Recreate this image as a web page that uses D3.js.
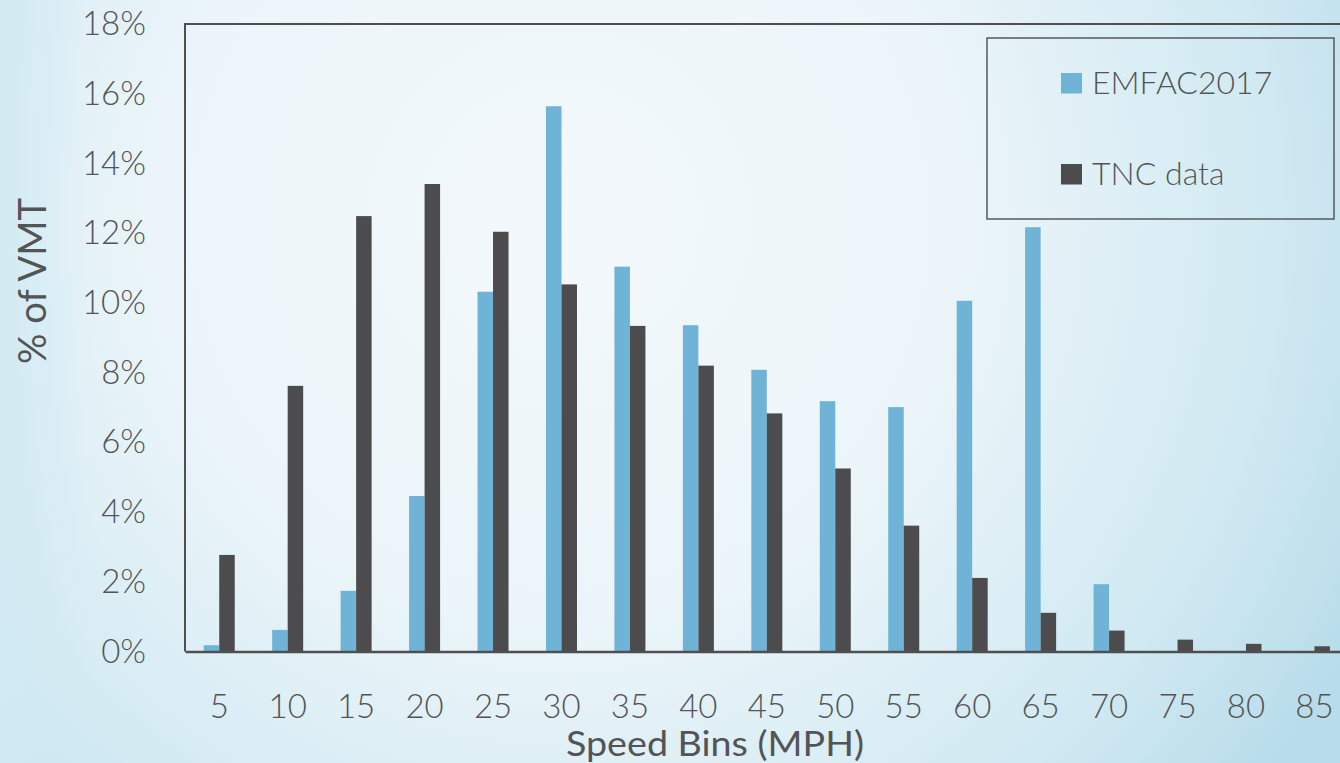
<!DOCTYPE html>
<html>
<head>
<meta charset="utf-8">
<script src="https://cdn.jsdelivr.net/npm/d3@7"></script>
<style>
	html, body { margin: 0; padding: 0; overflow: hidden; }
	svg { display: block; font-family: Lato, "Open Sans", sans-serif; }
</style>
</head>
<body>
<svg id="chart" width="1340" height="763"></svg>
<script>
// speed bins (MPH)
const speedBins = ['5', '10', '15', '20', '25', '30', '35', '40', '45', '50', '55', '60', '65', '70', '75', '80', '85'];
// share of VMT, fractions
const emfac2017 = [0.0018, 0.0062, 0.0174, 0.0446, 0.1032, 0.1564, 0.1104, 0.0936, 0.0808, 0.0718, 0.0701, 0.1006, 0.1217, 0.0193, 0, 0, 0];
const tncData = [0.0277, 0.0762, 0.1249, 0.1341, 0.1204, 0.1053, 0.0934, 0.0820, 0.0683, 0.0525, 0.0361, 0.0211, 0.0111, 0.0060, 0.0034, 0.0022, 0.0015];
const seriesNames = ['EMFAC2017', 'TNC data'];
const yTicks = [0, 0.02, 0.04, 0.06, 0.08, 0.10, 0.12, 0.14, 0.16, 0.18];

const colors = ['#6fb4d6', '#4c4c4e'];
const textColor = '#545456';

let svg = d3.select('#chart');
let width = 1340, height = 763;

// background wash
let defs = svg.append('defs');
let rg = defs.append('radialGradient')
	.attr('id', 'bg')
	.attr('gradientUnits', 'userSpaceOnUse')
	.attr('cx', 560).attr('cy', 220).attr('r', 900);
rg.append('stop').attr('offset', '0%').attr('stop-color', '#f3f8fb');
rg.append('stop').attr('offset', '45%').attr('stop-color', '#ebf5f9');
rg.append('stop').attr('offset', '80%').attr('stop-color', '#d0e9f2');
rg.append('stop').attr('offset', '100%').attr('stop-color', '#b8dcea');

let lg = defs.append('linearGradient')
	.attr('id', 'leftEdge')
	.attr('x1', 0).attr('x2', 1).attr('y1', 0).attr('y2', 0);
lg.append('stop').attr('offset', '0%').attr('stop-color', '#d2eaf3').attr('stop-opacity', 0.9);
lg.append('stop').attr('offset', '100%').attr('stop-color', '#d2eaf3').attr('stop-opacity', 0);

svg.append('rect').attr('width', width).attr('height', height).attr('fill', 'url(#bg)');
svg.append('rect').attr('width', 90).attr('height', height).attr('fill', 'url(#leftEdge)');

let plotLeft = 185, plotTop = 24, plotBottom = 651.5;
let step = 68.45;
let plotRight = plotLeft + step * speedBins.length; // plot area runs past the picture edge

let x = d3.scaleBand()
	.domain(speedBins)
	.range([plotLeft, plotRight])
	.paddingInner(0.547)
	.paddingOuter(0.2735);

let xSub = d3.scaleBand()
	.domain(seriesNames)
	.range([0, x.bandwidth()]);

let y = d3.scaleLinear()
	.domain([0, 0.18])
	.range([plotBottom, plotTop]);

let rows = speedBins.map((bin, i) => ({ bin: bin, values: [emfac2017[i], tncData[i]] }));

// plot area frame: top and left edge
svg.append('path')
	.attr('d', `M${plotRight},${plotTop}H${plotLeft}V${plotBottom}`)
	.attr('fill', 'none')
	.attr('stroke', '#4f4f51')
	.attr('stroke-width', 2);

// bars
let groups = svg.append('g')
	.selectAll('g')
	.data(rows)
	.enter()
	.append('g')
	.attr('transform', d => `translate(${x(d.bin)},0)`);

groups.selectAll('rect')
	.data(d => d.values.map((v, k) => ({ name: seriesNames[k], value: v, k: k })).filter(d => d.value > 0))
	.enter()
	.append('rect')
	.attr('x', d => xSub(d.name))
	.attr('width', xSub.bandwidth())
	.attr('y', d => y(d.value))
	.attr('height', d => plotBottom - y(d.value))
	.attr('fill', d => colors[d.k]);

// y axis
let yAxis = svg.append('g')
	.attr('transform', `translate(${plotLeft},0)`)
	.call(d3.axisLeft(y).tickValues(yTicks).tickFormat(d3.format('.0%')).tickSize(0).tickPadding(39))
	.attr('font-family', null)
	.attr('font-size', null);
yAxis.select('.domain').remove();
yAxis.selectAll('text')
	.attr('fill', textColor)
	.style('font-size', '33px')
	.style('font-weight', 300);

// x axis
let xAxis = svg.append('g')
	.attr('transform', `translate(0,${plotBottom})`)
	.call(d3.axisBottom(x).tickSize(0))
	.attr('font-family', null)
	.attr('font-size', null);
xAxis.select('.domain')
	.attr('stroke', '#4f4f51')
	.attr('stroke-width', 2.5);
xAxis.selectAll('text')
	.attr('dy', null)
	.attr('y', 718 - plotBottom)
	.attr('fill', textColor)
	.style('font-size', '33px')
	.style('font-weight', 300);

// axis titles
svg.append('text')
	.attr('transform', 'translate(46,281) rotate(-90)')
	.attr('text-anchor', 'middle')
	.attr('fill', textColor)
	.style('font-size', '38px')
	.text('% of VMT');

svg.append('text')
	.attr('x', 715)
	.attr('y', 756)
	.attr('text-anchor', 'middle')
	.attr('fill', textColor)
	.attr('textLength', 298)
	.attr('lengthAdjust', 'spacingAndGlyphs')
	.style('font-size', '34px')
	.text('Speed Bins (MPH)');

// legend
let legend = svg.append('g');
legend.append('rect')
	.attr('x', 987).attr('y', 38)
	.attr('width', 347).attr('height', 181)
	.attr('fill', 'none')
	.attr('stroke', '#58585a')
	.attr('stroke-width', 1.5);

let items = legend.selectAll('g.item')
	.data(seriesNames)
	.enter()
	.append('g')
	.attr('class', 'item')
	.attr('transform', (d, i) => `translate(1061,${93.5 + i * 91})`);

items.append('rect')
	.attr('x', 0).attr('y', -20.5)
	.attr('width', 21).attr('height', 20.5)
	.attr('fill', (d, i) => colors[i]);

items.append('text')
	.attr('x', 31)
	.attr('y', 0)
	.attr('fill', textColor)
	.style('font-size', '32px')
	.style('font-weight', 300)
	.text(d => d);
</script>
</body>
</html>
